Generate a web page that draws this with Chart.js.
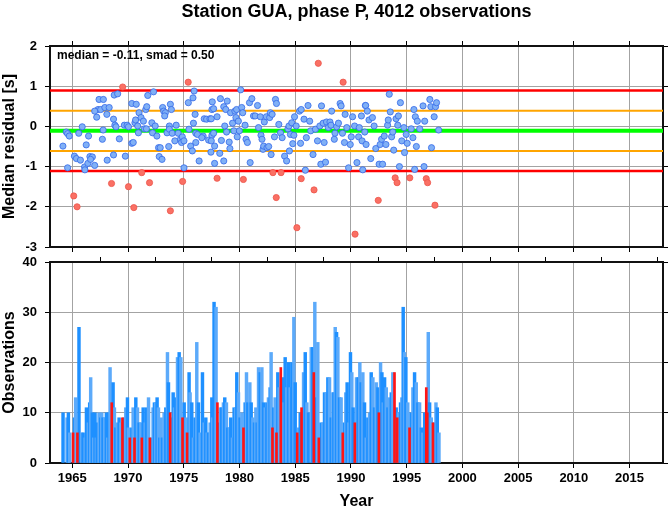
<!DOCTYPE html>
<html lang="en">
  <head>
    <meta charset="UTF-8" />
    <title>Station GUA, phase P</title>
    <script src="https://cdn.jsdelivr.net/npm/chart.js@4.4.1/dist/chart.umd.min.js"></script>
    <style>
      body {
        margin: 0;
        background: #ffffff;
        width: 669px;
        height: 511px;
        position: relative;
        overflow: hidden;
      }
      canvas {
        position: absolute;
        left: 0;
      }
      #residualChart {
        top: 0;
      }
      #countChart {
        top: 250px;
      }
    </style>
  </head>
  <body>
    <canvas id="residualChart" width="669" height="258"></canvas>
    <canvas id="countChart" width="669" height="261"></canvas>

    <script>
      const chartTitle = "Station GUA, phase P, 4012 observations";
      const yearRange = [1963, 2018];
      const tickYears = [1965, 1970, 1975, 1980, 1985, 1990, 1995, 2000, 2005, 2010, 2015];
      const residualTicks = [-3, -2, -1, 0, 1, 2];
      const countTicks = [0, 10, 20, 30, 40];

      const median = -0.11;
      const smad = 0.5;
      const redLevels = [0.89, -1.11];
      const orangeLevels = [0.39, -0.61];

      // monthly median residuals inside 2 smad
      const goodYears = [
        1964.16, 1964.46, 1964.58, 1964.73, 1964.58, 1965.19, 1965.37, 1965.58, 1965.89, 1965.73,
        1966.10, 1966.13, 1966.25, 1966.46, 1966.40, 1966.58, 1966.80, 1966.64, 1967.01, 1967.40,
        1967.79, 1967.31, 1967.19, 1967.01, 1967.55, 1967.77, 1967.70, 1967.92, 1968.10, 1968.31,
        1968.13, 1968.70, 1968.76, 1969.07, 1968.82, 1968.92, 1969.22, 1968.70, 1969.67, 1969.92,
        1970.04, 1970.34, 1970.34, 1969.76,
        1970.47, 1970.62, 1970.68, 1970.87, 1970.74, 1970.99, 1970.93, 1971.17, 1971.38, 1971.47,
        1971.59, 1971.68, 1971.77, 1971.65, 1972.29, 1972.14, 1972.20, 1972.44, 1972.59, 1972.74,
        1972.89, 1972.80, 1973.05, 1973.11, 1973.20, 1973.35, 1973.29, 1973.50, 1973.71, 1973.80,
        1973.89, 1973.65, 1973.71, 1973.96, 1974.20, 1974.32, 1974.50, 1974.71, 1974.80, 1974.87,
        1975.02, 1975.02, 1975.41, 1975.47, 1975.62, 1975.77, 1975.93, 1975.83, 1976.02, 1975.87,
        1976.08, 1976.23, 1976.08, 1976.38, 1976.84, 1977.05, 1977.35, 1976.74, 1976.62, 1977.23,
        1977.44, 1977.53, 1977.53,
        1977.56, 1977.68, 1977.47, 1977.68, 1977.47, 1977.77, 1977.77, 1977.99, 1978.23, 1978.38,
        1978.29, 1978.59, 1978.59, 1978.77, 1978.90, 1978.68, 1978.84, 1979.08, 1979.14, 1979.20,
        1979.38, 1979.50, 1979.59, 1979.68, 1979.74, 1979.80, 1979.90, 1979.99, 1980.11, 1980.20,
        1980.29, 1980.50, 1980.59, 1980.71, 1980.96, 1980.90, 1981.11, 1981.26, 1981.41, 1981.62,
        1981.71, 1981.87, 1981.93, 1982.02, 1982.11, 1982.17, 1982.23, 1982.41, 1982.47, 1982.62,
        1982.71, 1982.77, 1982.93, 1982.84, 1983.23, 1983.32, 1983.14, 1983.53, 1983.68, 1983.83,
        1984.05, 1984.23, 1984.35, 1984.44,
        1984.48, 1984.57, 1984.69, 1984.88, 1984.78, 1984.94, 1985.09, 1985.39, 1985.54, 1985.48,
        1985.91, 1985.79, 1986.00, 1986.15, 1986.30, 1986.39, 1986.60, 1986.81, 1987.00, 1987.21,
        1987.30, 1987.36, 1987.51, 1987.60, 1987.72, 1987.81, 1987.97, 1988.12, 1988.27, 1988.21,
        1988.51, 1988.57, 1988.72, 1988.88, 1989.03, 1989.12, 1989.24, 1989.42, 1989.48, 1989.63,
        1989.79, 1989.94, 1990.03, 1990.15, 1990.33, 1990.54, 1990.69, 1990.75, 1990.94, 1991.00,
        1991.06, 1991.30, 1991.36, 1991.24,
        1991.32, 1991.47, 1991.62, 1991.78, 1991.93, 1992.08, 1992.23, 1992.53, 1992.62, 1992.84,
        1992.75, 1992.99, 1993.14, 1993.29, 1993.35, 1993.44, 1993.53, 1993.65, 1993.75, 1993.84,
        1994.05, 1994.20, 1994.26, 1994.35, 1994.44, 1994.56, 1994.75, 1994.81, 1994.96, 1995.05,
        1995.41, 1995.56, 1995.65, 1995.72, 1995.78, 1995.87, 1995.96, 1996.17, 1996.47, 1996.56,
        1996.62, 1997.08, 1997.17, 1997.23, 1997.47, 1997.59, 1997.68, 1997.87
      ];
      const goodResiduals = [
        -0.49, -0.14, -0.18, -0.24, -1.03, -0.74, -0.8, -0.17, -0.01, -0.84,
        -1.01, -1.08, -0.46, -0.24, -0.92, -0.75, -0.76, -0.82, -0.97, 0.67,
        0.67, 0.42, 0.23, 0.38, 0.42, -0.09, -0.32, 0.47, 0.3, 0.47,
        -0.84, 0.18, 0.78, 0.81, 0.03, -0.01, -0.31, -0.71, 0.03, 0.03,
        -0.01, 0.57, -0.42, -0.74,
        -0.4, 0.09, 0.16, 0.01, 0.55, 0.34, -0.16, 0.22, 0.13, -0.06,
        0.42, 0.49, 0.77, -0.06, 0.86, 0.09, -0.16, 0.01, -0.24, -0.53,
        -0.53, -0.75, -0.82, 0.47, 0.38, 0.34, 0.26, -0.16, 0.01, 0.55,
        0.42, -0.5, -0.07, -0.17, -0.36, 0.03, -0.17, -0.32, -0.4, -0.26,
        -0.36, -1.03, 0.59, -0.07, -0.49, -0.61, 0.88, 0.71, 0.3, 0.08,
        -0.17, -0.2, -0.4, -0.86, 0.19, 0.18, 0.19, -0.24, -0.28, -0.34,
        -0.64, 0.42, -0.22,
        0.61, 0.44, 0.19, -0.17, -0.36, -0.49, -0.92, 0.24, -0.67, -0.35,
        0.69, -0.86, 0.49, 0.42, 0.63, 0.01, -0.14, -0.39, -0.55, 0.34,
        0.08, -0.11, 0.38, 0.22, 0.42, -0.26, 0.13, -0.11, 0.91, 0.47,
        0.34, 0.03, -0.32, -0.4, -0.9, 0.59, 0.69, 0.26, 0.26, 0.52,
        -0.03, 0.24, -0.22, -0.32, -0.57, -0.49, 0.11, 0.24, -0.53, -0.5,
        0.22, 0.34, 0.3, -0.7, 0.67, 0.57, -0.26, 0.05, -0.16, -0.28,
        -0.74, -0.86, -0.06, 0.01,
        -0.61, -0.2, 0.09, -0.22, -0.43, 0.24, 0.01, 0.38, 0.42, -0.42,
        -1.09, 0.18, -0.28, 0.52, 0.13, -0.11, -0.7, -0.07, -0.36, 0.01,
        -0.94, 0.51, 0.08, -0.4, -0.89, 0.11, -0.03, 0.11, 0.38, 0.03,
        -0.32, -0.17, -0.01, 0.08, 0.57, 0.51, -0.17, -0.4, 0.3, -0.03,
        -1.03, -0.45, -0.26, 0.24, 0.01, -0.9, -0.26, -0.03, 0.26, -0.36,
        -1.08, 0.52, -0.45, -0.14,
        0.52, 0.38, 0.16, -0.8, 0.22, 0.01, -0.55, -0.94, -0.45, -0.94,
        -0.32, -0.24, -0.45, 0.03, 0.16, 0.8, 0.36, -0.26, -0.14, -0.59,
        0.19, 0.03, 0.26, -1.0, 0.59, -0.36, -0.03, -0.65, -0.2, -0.42,
        -0.06, -0.28, 0.42, -1.07, 0.24, -0.5, 0.13, -0.06, 0.51, -1.0,
        0.13, 0.67, 0.49, -0.53, 0.24, 0.49, 0.59, -0.09
      ];

      // monthly medians outside 2 smad
      const outlierYears = [
        1965.13, 1965.43, 1968.52, 1969.52, 1970.04, 1970.52, 1971.23, 1971.93, 1973.8, 1974.9,
        1975.4, 1977.99, 1980.35, 1983.0, 1983.3, 1983.73, 1985.15, 1985.54, 1986.69, 1987.07,
        1989.3, 1990.37, 1992.45, 1993.97, 1994.14, 1995.28, 1996.76, 1996.88, 1997.54
      ];
      const outlierResiduals = [
        -1.73, -2.0, -1.42, 0.98, -1.5, -2.02, -1.15, -1.4, -2.1, -1.37,
        1.1, -1.29, -1.32, -1.15, -1.77, -1.15, -2.52, -1.3, -1.58, 1.57,
        1.1, -2.68, -1.84, -1.28, -1.4, -1.28, -1.3, -1.4, -1.96
      ];

      // observations per month
      const barYears = [
        1964.17, 1964.53, 1964.65, 1964.77, 1965.19, 1965.3, 1965.6, 1965.85, 1965.97, 1966.15,
        1966.27, 1966.44, 1966.56, 1966.65, 1966.8, 1966.92, 1967.04, 1967.16, 1967.25, 1967.4,
        1967.55, 1967.64, 1967.76, 1967.91, 1968.06, 1968.18, 1968.3, 1968.39, 1968.66, 1968.78,
        1968.9, 1969.05, 1969.2, 1969.35, 1969.65, 1969.8, 1969.95, 1970.04, 1970.34, 1970.46,
        1970.7, 1970.85, 1971.0, 1971.15, 1971.36, 1971.54, 1971.66, 1971.84, 1972.13, 1972.25,
        1972.37, 1972.49, 1972.61, 1972.73, 1972.85, 1972.97, 1973.09, 1973.24, 1973.39, 1973.54,
        1973.63, 1973.93, 1974.05, 1974.17, 1974.29, 1974.44, 1974.59, 1974.74, 1975.04, 1975.21,
        1975.48, 1975.57, 1975.72, 1975.87, 1976.02, 1976.17, 1976.32, 1976.47, 1976.68, 1976.83,
        1976.98, 1977.1, 1977.22, 1977.37, 1977.52, 1977.6, 1977.72, 1977.9, 1978.17, 1978.29,
        1978.41, 1978.56, 1978.68, 1978.83, 1978.95, 1979.1, 1979.22, 1979.37, 1979.52, 1979.67,
        1979.76, 1979.91, 1980.06, 1980.21, 1980.51, 1980.63, 1980.75, 1980.93, 1981.05, 1981.2,
        1981.35, 1981.47, 1981.59, 1981.71, 1981.86, 1982.01, 1982.16, 1982.31, 1982.46, 1982.6,
        1982.75, 1982.84, 1983.08, 1983.2, 1983.44, 1983.56, 1983.86, 1983.98, 1984.1, 1984.25,
        1984.4, 1984.55, 1984.7, 1984.88, 1985.0, 1985.3, 1985.45, 1985.75, 1985.9, 1986.05,
        1986.2, 1986.44, 1986.58, 1986.76, 1986.88, 1987.03, 1987.33, 1987.48, 1987.63, 1987.78,
        1987.93, 1988.08, 1988.23, 1988.38, 1988.47, 1988.59, 1988.71, 1988.83, 1988.98, 1989.12,
        1989.42, 1989.54, 1989.66, 1989.81, 1989.96, 1990.08, 1990.2, 1990.5, 1990.65, 1990.8,
        1990.92, 1991.07, 1991.22, 1991.37, 1991.52, 1991.67, 1991.82, 1991.97, 1992.12, 1992.27,
        1992.42, 1992.66, 1992.78, 1992.9, 1993.02, 1993.17, 1993.32, 1993.47, 1993.62, 1993.76,
        1994.06, 1994.27, 1994.45, 1994.57, 1994.69, 1994.81, 1994.93, 1995.1, 1995.4, 1995.56,
        1995.71, 1995.86, 1996.01, 1996.16, 1996.31, 1996.46, 1996.61, 1996.94, 1997.06, 1997.21,
        1997.51, 1997.63, 1997.75, 1997.9
      ];
      const barCounts = [
        10, 9, 10, 6, 9, 13, 27, 6, 6, 5,
        11, 8, 12, 17, 10, 5, 10, 5, 8, 10,
        9, 10, 9, 9, 10, 5, 10, 19, 16, 11,
        7, 8, 9, 8, 9, 11, 13, 7, 7, 11,
        13, 11, 8, 8, 11, 8, 11, 13, 5, 11,
        12, 12, 13, 11, 5, 9, 5, 10, 11, 22,
        16, 9, 14, 11, 13, 21, 22, 21, 12, 9,
        18, 14, 12, 5, 9, 24, 12, 6, 18, 8,
        9, 6, 6, 8, 13, 9, 32, 31, 8, 11,
        11, 12, 13, 12, 7, 7, 9, 5, 11, 11,
        18, 14, 9, 10, 12, 18, 12, 16, 12, 9,
        8, 11, 8, 19, 18, 19, 12, 11, 12, 13,
        15, 22, 11, 13, 18, 15, 17, 12, 21, 15,
        20, 15, 20, 29, 16, 7, 10, 18, 22, 12,
        10, 23, 23, 32, 13, 24, 8, 8, 14, 14,
        17, 17, 9, 14, 14, 27, 26, 25, 13, 13,
        8, 14, 16, 8, 22, 18, 11, 17, 17, 20,
        16, 18, 12, 5, 9, 10, 18, 17, 11, 16,
        15, 20, 18, 12, 17, 15, 11, 13, 14, 18,
        11, 10, 12, 13, 31, 22, 21, 12, 10, 15,
        18, 16, 12, 12, 7, 6, 10, 26, 12, 9,
        8, 12, 11, 6
      ];

      // observations in the outlier months
      const outlierBarYears = [
        1965.07, 1965.46, 1968.54, 1969.5, 1970.16, 1970.58, 1971.24, 1971.96, 1973.78, 1974.89,
        1975.3, 1978.02, 1980.36, 1982.96, 1983.32, 1983.71, 1985.18, 1985.57, 1986.67, 1987.12,
        1989.27, 1990.35, 1992.51, 1993.91, 1994.15, 1995.26, 1996.76, 1996.85, 1997.36
      ];
      const outlierBarCounts = [
        6, 6, 12, 9, 5, 5, 5, 5, 10, 9,
        6, 12, 7, 7, 6, 19, 6, 11, 18, 5,
        6, 8, 10, 18, 9, 7, 15, 10, 8
      ];

      const FONT = "'Liberation Sans', Arial, Helvetica, sans-serif";
      const GRID = "#a3a3a3";

      function toPoints(xs, ys) {
        return xs.map((x, i) => ({ x: x, y: ys[i] }));
      }

      function levelLine(level, color, width) {
        return {
          type: "line",
          data: [
            { x: yearRange[0], y: level },
            { x: yearRange[1], y: level },
          ],
          borderColor: color,
          borderWidth: width,
          pointRadius: 0,
          showLine: true,
          order: 5,
        };
      }

      // pin the axis box size so both panels get the same plot area
      function fixSize(size) {
        return function (scale) {
          if (scale.isHorizontal()) scale.height = size;
          else scale.width = size;
          scale.paddingTop = 0;
          scale.paddingBottom = 0;
          scale.paddingLeft = 0;
          scale.paddingRight = 0;
        };
      }

      function setTicks(values) {
        return function (scale) {
          scale.ticks = values.map((v) => ({ value: v }));
        };
      }

      function frameAxis(position, size, range, ticks, grid) {
        return {
          type: "linear",
          position: position,
          min: range[0],
          max: range[1],
          offset: false,
          afterBuildTicks: setTicks(ticks),
          afterFit: fixSize(size),
          ticks: { display: false },
          grid: {
            display: true,
            drawOnChartArea: grid,
            color: GRID,
            lineWidth: 1,
            tickLength: 5,
            tickColor: "#000",
          },
          border: { display: true, color: "#111", width: 2 },
        };
      }

      const tickFont = { family: FONT, size: 13, weight: "bold" };
      const axisTitleFont = { family: FONT, size: 16, weight: "bold" };

      // note in the upper-left corner of the residual panel
      const notePlugin = {
        id: "note",
        afterDraw(chart) {
          const ctx = chart.ctx;
          const area = chart.chartArea;
          ctx.save();
          ctx.font = "bold 12px " + FONT;
          ctx.fillStyle = "#000";
          ctx.textBaseline = "middle";
          ctx.textAlign = "left";
          ctx.fillText(
            "median = " + median.toFixed(2) + ", smad = " + smad.toFixed(2),
            area.left + 7,
            area.top + 10
          );
          ctx.restore();
        },
      };

      Chart.defaults.font.family = FONT;
      Chart.defaults.color = "#000";

      new Chart(document.getElementById("residualChart"), {
        type: "scatter",
        data: {
          datasets: [
            {
              data: toPoints(outlierYears, outlierResiduals),
              backgroundColor: "rgb(250,112,100)",
              borderColor: "rgb(236,84,74)",
              borderWidth: 0.8,
              pointRadius: 3.1,
              order: 1,
            },
            {
              data: toPoints(goodYears, goodResiduals),
              backgroundColor: "rgb(128,176,246)",
              borderColor: "rgb(52,104,232)",
              borderWidth: 0.8,
              pointRadius: 3.1,
              order: 2,
            },
            levelLine(median, "rgb(0,255,0)", 4),
            levelLine(orangeLevels[0], "rgb(255,165,0)", 2),
            levelLine(orangeLevels[1], "rgb(255,165,0)", 2),
            levelLine(redLevels[0], "rgb(255,0,0)", 2.5),
            levelLine(redLevels[1], "rgb(255,0,0)", 2.5),
          ],
        },
        options: {
          responsive: false,
          animation: false,
          events: [],
          layout: { padding: 0 },
          plugins: { legend: { display: false }, tooltip: { enabled: false } },
          scales: {
            x: {
              type: "linear",
              position: "bottom",
              min: yearRange[0],
              max: yearRange[1],
              afterBuildTicks: setTicks(tickYears),
              afterFit: fixSize(11),
              ticks: { display: false },
              grid: { color: GRID, lineWidth: 1, tickLength: 5, tickColor: "#000" },
              border: { display: true, color: "#111", width: 2 },
            },
            x2: Object.assign(frameAxis("top", 46, yearRange, tickYears, false), {
              title: {
                display: true,
                text: chartTitle,
                font: { family: FONT, size: 18, weight: "bold" },
                padding: { top: 1, bottom: 0 },
              },
            }),
            y: {
              type: "linear",
              position: "left",
              min: -3,
              max: 2,
              afterBuildTicks: setTicks(residualTicks),
              afterFit: fixSize(50),
              ticks: { font: tickFont, padding: 8, callback: (v) => String(v) },
              grid: { color: GRID, lineWidth: 1, tickLength: 5, tickColor: "#000" },
              border: { display: true, color: "#111", width: 2 },
              title: {
                display: true,
                text: "Median residual [s]",
                font: axisTitleFont,
                padding: { top: 0, bottom: 0 },
              },
            },
            y2: frameAxis("right", 6, [-3, 2], residualTicks, false),
          },
        },
        plugins: [notePlugin],
      });

      new Chart(document.getElementById("countChart"), {
        type: "bar",
        data: {
          datasets: [
            {
              data: toPoints(outlierBarYears, outlierBarCounts),
              backgroundColor: "rgb(255,20,20)",
              barThickness: 2,
              grouped: false,
              order: 1,
            },
            {
              data: toPoints(barYears, barCounts),
              backgroundColor: (c) => (c.dataIndex % 2 ? "rgb(92,170,250)" : "rgb(30,144,255)"),
              barThickness: 2.8,
              grouped: false,
              order: 2,
            },
          ],
        },
        options: {
          responsive: false,
          animation: false,
          events: [],
          layout: { padding: 0 },
          plugins: { legend: { display: false }, tooltip: { enabled: false } },
          scales: {
            x: {
              type: "linear",
              position: "bottom",
              min: yearRange[0],
              max: yearRange[1],
              offset: false,
              afterBuildTicks: setTicks(tickYears),
              afterFit: fixSize(48),
              ticks: { font: tickFont, padding: 3, maxRotation: 0, callback: (v) => String(v) },
              grid: { offset: false, color: GRID, lineWidth: 1, tickLength: 5, tickColor: "#000" },
              border: { display: true, color: "#111", width: 2 },
              title: {
                display: true,
                text: "Year",
                font: axisTitleFont,
                padding: { top: 0, bottom: 0 },
              },
            },
            x2: frameAxis("top", 12, yearRange, tickYears, false),
            y: {
              type: "linear",
              position: "left",
              min: 0,
              max: 40,
              afterBuildTicks: setTicks(countTicks),
              afterFit: fixSize(50),
              ticks: { font: tickFont, padding: 8, callback: (v) => String(v) },
              grid: { color: GRID, lineWidth: 1, tickLength: 5, tickColor: "#000" },
              border: { display: true, color: "#111", width: 2 },
              title: {
                display: true,
                text: "Observations",
                font: axisTitleFont,
                padding: { top: 0, bottom: 0 },
              },
            },
            y2: frameAxis("right", 6, [0, 40], countTicks, false),
          },
        },
      });
    </script>
  </body>
</html>
